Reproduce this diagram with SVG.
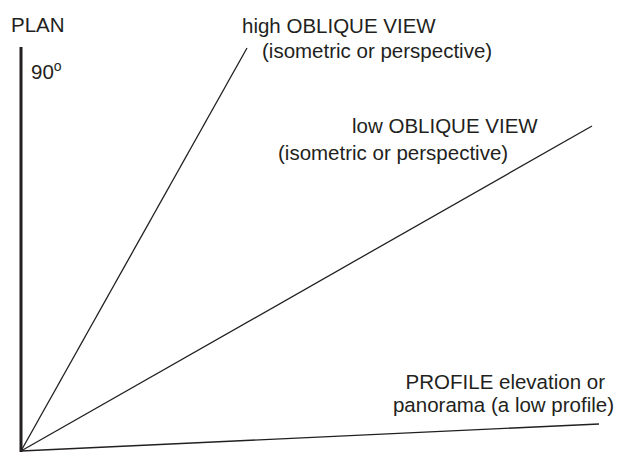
<svg xmlns="http://www.w3.org/2000/svg" width="618" height="453" viewBox="0 0 618 453">
<style>
text{font-family:"Liberation Sans",Arial,sans-serif;font-size:20.5px;fill:#231f20}
.ln{stroke:#231f20;stroke-width:1.3;fill:none}
</style>
<rect width="618" height="453" fill="#fff"/>
<g id="connectors">
<line class="ln" x1="21" y1="451" x2="247" y2="48"/>
<line class="ln" x1="21" y1="451" x2="592" y2="126"/>
<line class="ln" x1="21" y1="451" x2="599" y2="424"/>
</g>
<g id="plan">
<line x1="21" y1="47" x2="21" y2="452" stroke="#231f20" stroke-width="3"/>
<text x="11" y="32">PLAN</text>
<text x="31" y="79">90<tspan font-size="14" dy="-8">o</tspan></text>
</g>
<g id="high">
<text x="242" y="33">high OBLIQUE VIEW</text>
<text x="262" y="58">(isometric or perspective)</text>
</g>
<g id="low">
<text x="352" y="133">low OBLIQUE VIEW</text>
<text x="278" y="160">(isometric or perspective)</text>
</g>
<g id="profile">
<text x="605" y="389" text-anchor="end">PROFILE elevation or</text>
<text x="614" y="412" text-anchor="end">panorama (a low profile)</text>
</g>
</svg>
